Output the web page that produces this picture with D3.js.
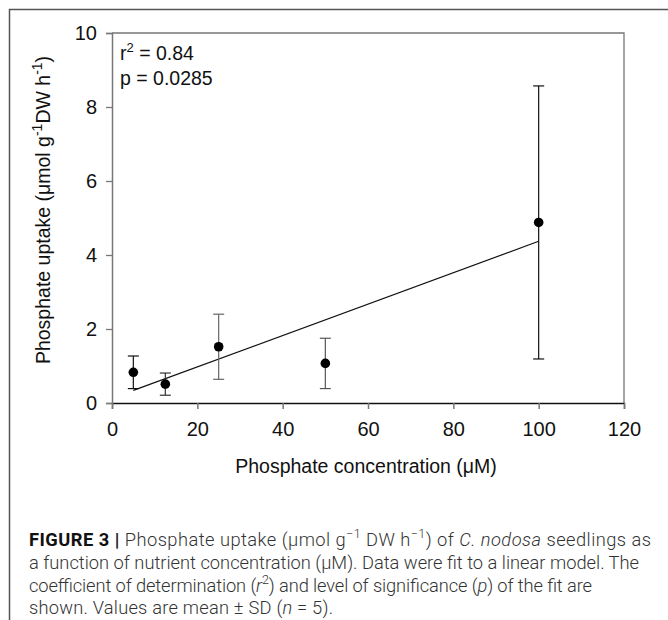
<!DOCTYPE html>
<html>
<head>
<meta charset="utf-8">
<script src="https://cdn.jsdelivr.net/npm/d3@7"></script>
<style>
  body { margin: 0; background: #fff; }
</style>
</head>
<body>
<div id="chart"></div>
<script>
var width = 668;
var height = 620;

// data
var concentration = [5, 12.5, 25, 50, 100];
var uptake = [0.83, 0.51, 1.52, 1.07, 4.88];
var sd = [0.44, 0.30, 0.88, 0.68, 3.69];
var barColor = ["#111", "#333", "#666", "#555", "#111"];
var fitX = [5, 100];
var fitY = [0.34, 4.37];
var xTicks = [0, 20, 40, 60, 80, 100, 120];
var yTicks = [0, 2, 4, 6, 8, 10];

var chartFont = "Liberation Sans, Arial, sans-serif";

var canvas = d3.select("#chart")
  .append("svg")
  .attr("width", width)
  .attr("height", height);

// frame of the figure panel
canvas.append("path")
  .attr("d", "M9.5," + height + "V9.5H" + width)
  .attr("fill", "none")
  .attr("stroke", "#555")
  .attr("stroke-width", 1.5);

var x = d3.scaleLinear().domain([0, 120]).range([112, 624]);
var y = d3.scaleLinear().domain([0, 10]).range([403, 33]);

// box top and right
canvas.append("path")
  .attr("d", "M" + x(0) + "," + y(10) + "H" + x(120) + "V" + y(0))
  .attr("fill", "none")
  .attr("stroke", "#777")
  .attr("stroke-width", 1.3);

var xAxis = canvas.append("g")
  .attr("transform", "translate(0," + y(0) + ")")
  .call(d3.axisBottom(x).tickValues(xTicks).tickSize(6).tickPadding(13));
xAxis.select(".domain").attr("stroke", "#111").attr("stroke-width", 1.3);
xAxis.selectAll(".tick line").attr("stroke", "#777").attr("stroke-width", 1.5);

var yAxis = canvas.append("g")
  .attr("transform", "translate(" + x(0) + ",0)")
  .call(d3.axisLeft(y).tickValues(yTicks).tickSize(6).tickPadding(9));
yAxis.select(".domain").attr("stroke", "#777").attr("stroke-width", 1.5);
yAxis.selectAll(".tick line").attr("stroke", "#777").attr("stroke-width", 1.3);

canvas.selectAll(".tick text")
  .attr("font-family", chartFont)
  .attr("font-size", 20)
  .attr("fill", "#111");

// fit line
canvas.append("line")
  .attr("x1", x(fitX[0])).attr("y1", y(fitY[0]))
  .attr("x2", x(fitX[1])).attr("y2", y(fitY[1]))
  .attr("stroke", "#111")
  .attr("stroke-width", 1.2);

// error bars
var bars = canvas.append("g");
for (var i = 0; i < concentration.length; i++) {
  var cx = x(concentration[i]);
  var yHi = y(uptake[i] + sd[i]);
  var yLo = y(uptake[i] - sd[i]);
  bars.append("line").attr("x1", cx).attr("x2", cx).attr("y1", yHi).attr("y2", yLo)
    .attr("stroke", barColor[i]).attr("stroke-width", 1.2);
  bars.append("line").attr("x1", cx - 5.5).attr("x2", cx + 5.5).attr("y1", yHi).attr("y2", yHi)
    .attr("stroke", barColor[i]).attr("stroke-width", 1.2);
  bars.append("line").attr("x1", cx - 5.5).attr("x2", cx + 5.5).attr("y1", yLo).attr("y2", yLo)
    .attr("stroke", barColor[i]).attr("stroke-width", 1.2);
}

canvas.append("g").selectAll("circle")
  .data(concentration)
  .enter().append("circle")
  .attr("cx", function(d) { return x(d); })
  .attr("cy", function(d, i) { return y(uptake[i]); })
  .attr("r", 4.8)
  .attr("fill", "#000");

// statistics
var r2 = canvas.append("text").attr("x", 120).attr("y", 60)
  .attr("font-family", chartFont).attr("font-size", 19.5).attr("fill", "#111");
r2.append("tspan").text("r");
r2.append("tspan").attr("font-size", 13).attr("dy", -8).text("2");
r2.append("tspan").attr("dy", 8).text(" = 0.84");
canvas.append("text").attr("x", 120).attr("y", 85)
  .attr("font-family", chartFont).attr("font-size", 19.5).attr("fill", "#111")
  .text("p = 0.0285");

// axis titles
canvas.append("text")
  .attr("x", 366).attr("y", 473)
  .attr("text-anchor", "middle")
  .attr("font-family", chartFont)
  .attr("font-size", 19.5)
  .attr("fill", "#111")
  .text("Phosphate concentration (\u03bcM)");

var yt = canvas.append("text")
  .attr("transform", "translate(50,210) rotate(-90)")
  .attr("text-anchor", "middle")
  .attr("font-family", chartFont)
  .attr("font-size", 19.5)
  .attr("fill", "#111");
yt.append("tspan").text("Phosphate uptake (\u03bcmol g");
yt.append("tspan").attr("font-size", 14).attr("dy", -8).text("-1");
yt.append("tspan").attr("dy", 8).text("DW h");
yt.append("tspan").attr("font-size", 14).attr("dy", -8).text("-1");
yt.append("tspan").attr("dy", 8).text(")");

// caption
var capFont = "Roboto, Liberation Sans, sans-serif";
var cap = canvas.append("g")
  .attr("font-family", capFont)
  .attr("font-size", 18.3)
  .attr("font-weight", 300)
  .attr("fill", "#333");

var l1 = cap.append("text").attr("x", 29).attr("y", 546)
  .attr("textLength", 622).attr("lengthAdjust", "spacing");
l1.append("tspan").attr("font-weight", 700).attr("fill", "#111").text("FIGURE 3 | ");
l1.append("tspan").text("Phosphate uptake (\u03bcmol g");
l1.append("tspan").attr("font-size", 12.5).attr("dy", -8).text("\u22121");
l1.append("tspan").attr("dy", 8).text(" DW h");
l1.append("tspan").attr("font-size", 12.5).attr("dy", -8).text("\u22121");
l1.append("tspan").attr("dy", 8).text(") of ");
l1.append("tspan").attr("font-style", "italic").text("C. nodosa");
l1.append("tspan").text(" seedlings as");

cap.append("text").attr("x", 29).attr("y", 569)
  .attr("textLength", 610).attr("lengthAdjust", "spacing")
  .text("a function of nutrient concentration (\u03bcM). Data were fit to a linear model. The");

var l3 = cap.append("text").attr("x", 29).attr("y", 592)
  .attr("textLength", 563).attr("lengthAdjust", "spacing");
l3.append("tspan").text("coefficient of determination (");
l3.append("tspan").attr("font-style", "italic").text("r");
l3.append("tspan").attr("font-size", 12.5).attr("dy", -8).text("2");
l3.append("tspan").attr("dy", 8).text(") and level of significance (");
l3.append("tspan").attr("font-style", "italic").text("p");
l3.append("tspan").text(") of the fit are");

var l4 = cap.append("text").attr("x", 29).attr("y", 614)
  .attr("textLength", 304).attr("lengthAdjust", "spacing");
l4.append("tspan").text("shown. Values are mean \u00b1 SD (");
l4.append("tspan").attr("font-style", "italic").text("n");
l4.append("tspan").text(" = 5).");
</script>
</body>
</html>
